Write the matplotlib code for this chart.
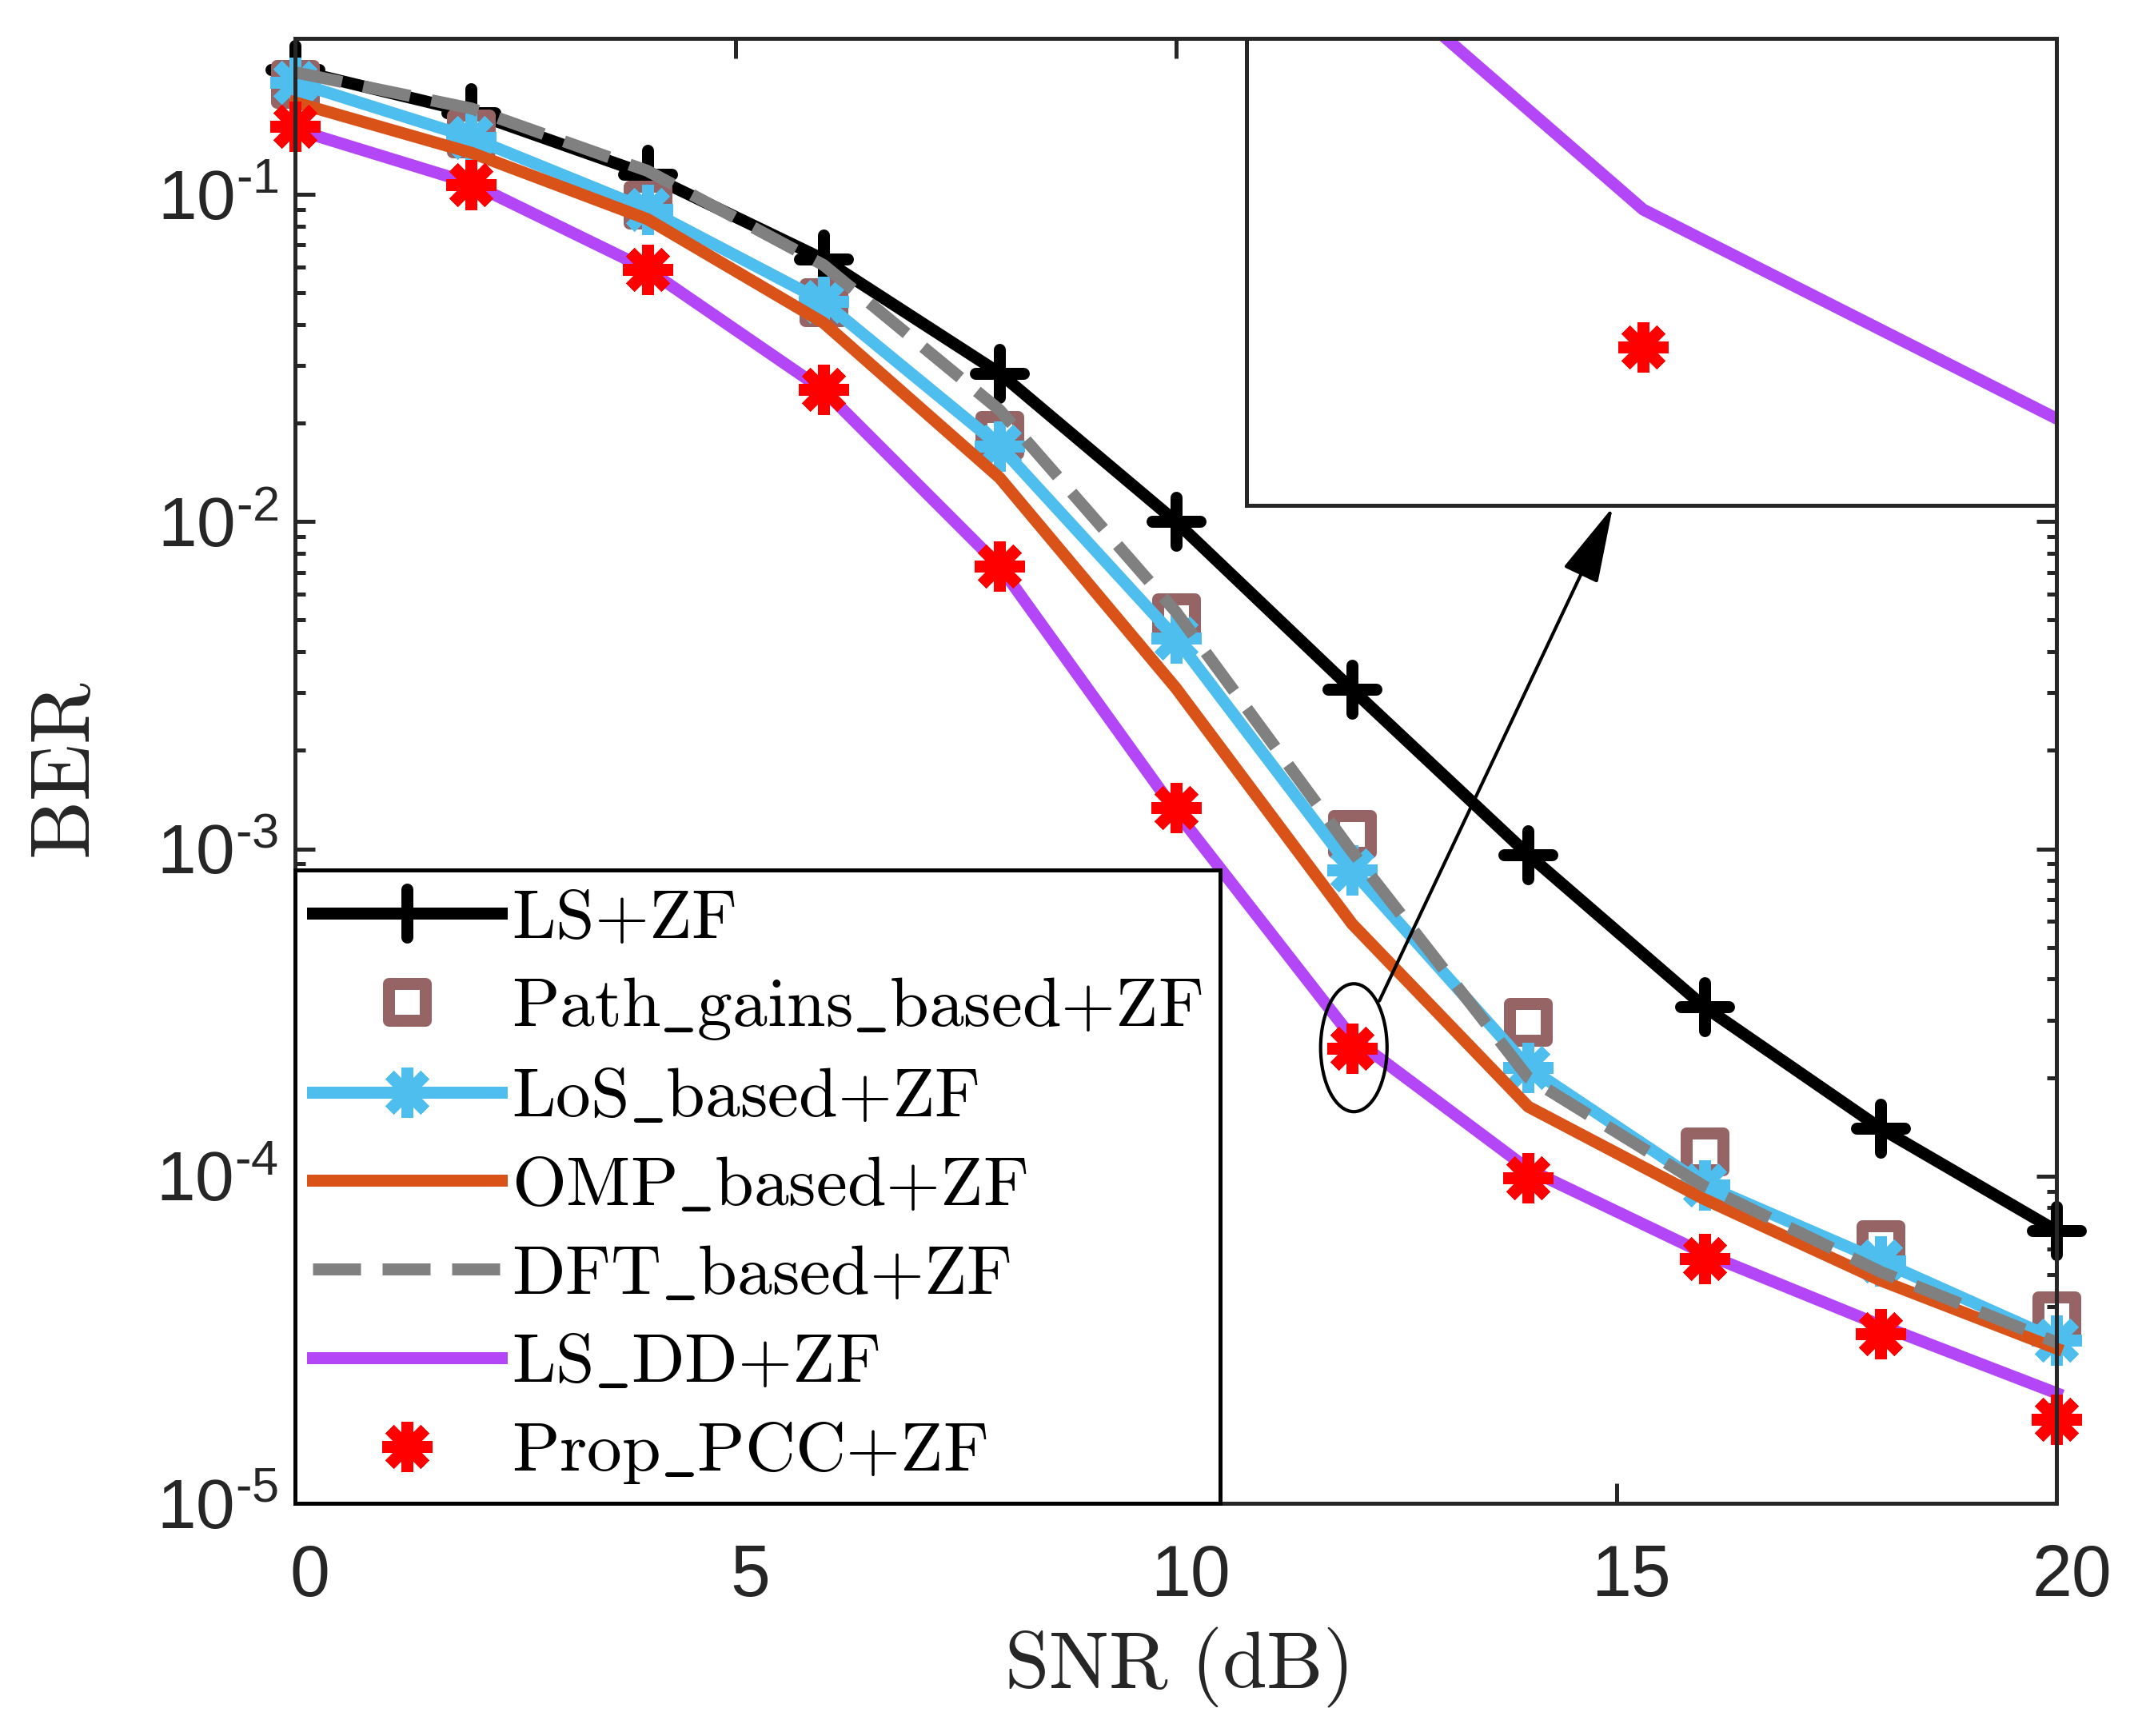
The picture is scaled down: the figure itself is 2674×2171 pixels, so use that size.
import matplotlib
matplotlib.use('Agg')
import matplotlib.pyplot as plt
import numpy as np
import matplotlib.ticker as ticker
import matplotlib.transforms as mtransforms
from matplotlib.patches import Ellipse
from matplotlib.markers import MarkerStyle
from matplotlib.font_manager import FontProperties

plt.rcParams['font.family'] = 'Liberation Sans'
plt.rcParams['mathtext.fontset'] = 'custom'
plt.rcParams['mathtext.rm'] = 'Liberation Sans'
plt.rcParams['mathtext.it'] = 'Liberation Sans:italic'
plt.rcParams['mathtext.bf'] = 'Liberation Sans:bold'

# data
snr = [0, 2, 4, 6, 8, 10, 12, 14, 16, 18, 20]
ber_ls = [0.240, 0.178, 0.115, 0.0633, 0.0284, 0.0100, 0.00307, 0.00096, 0.000329, 0.000140, 6.8e-5]
ber_path = [0.218, 0.153, 0.093, 0.0468, 0.0184, 0.0051, 0.00111, 0.000296, 0.000119, 6.2e-5, 3.75e-5]
ber_los = [0.220, 0.149, 0.090, 0.047, 0.0170, 0.0044, 0.00086, 0.000215, 9.4e-5, 5.5e-5, 3.16e-5]
ber_omp = [0.191, 0.134, 0.084, 0.0405, 0.0136, 0.0031, 0.00059, 0.000163, 8.5e-5, 4.8e-5, 2.97e-5]
ber_dft = [0.236, 0.183, 0.118, 0.0608, 0.0219, 0.0053, 0.00098, 0.000200, 9.3e-5, 5.1e-5, 3.1e-5]
ber_lsdd = [0.158, 0.108, 0.059, 0.0252, 0.0073, 0.00130, 0.000265, 0.000105, 5.8e-5, 3.5e-5, 2.17e-5]
ber_prop = [0.161, 0.107, 0.059, 0.0254, 0.0073, 0.00134, 0.000246, 9.9e-5, 5.6e-5, 3.3e-5, 1.81e-5]

labels = [r'$\mathrm{LS{+}ZF}$',
          r'$\mathrm{Path\_gains\_based{+}ZF}$',
          r'$\mathrm{LoS\_based{+}ZF}$',
          r'$\mathrm{OMP\_based{+}ZF}$',
          r'$\mathrm{DFT\_based{+}ZF}$',
          r'$\mathrm{LS\_DD{+}ZF}$',
          r'$\mathrm{Prop\_PCC{+}ZF}$']

lw = 3.6
plus = MarkerStyle('+', capstyle='round')
star = MarkerStyle((8, 2, 0), capstyle='round')
square = MarkerStyle('s', joinstyle='round')

fig, ax = plt.subplots(figsize=(2674 / 300, 2171 / 300), dpi=300)
fig.subplots_adjust(left=0.138, right=0.962, bottom=0.134, top=0.978)

ax.plot(snr, ber_ls, color='k', lw=lw, marker=plus, ms=14.5, mew=lw, label=labels[0], clip_on=False)
ax.plot(snr, ber_path, ls='none', marker=square, ms=11, mew=lw, mfc='none',
        mec='#966464', label=labels[1], clip_on=False)
ax.plot(snr, ber_los, color='#4DBEEE', lw=lw, marker=star, ms=15, mew=lw, label=labels[2], clip_on=False)
ax.plot(snr, ber_omp, color='#D95319', lw=lw, label=labels[3], clip_on=False)
ax.plot(snr, ber_dft, color='#808080', lw=lw, ls=(0, (4.0, 1.8)), label=labels[4], clip_on=False)
ax.plot(snr, ber_lsdd, color='#B347F7', lw=lw, label=labels[5], clip_on=False)
ax.plot(snr, ber_prop, ls='none', marker=star, ms=15, mew=lw, mec='#FF0000',
        mfc='#FF0000', label=labels[6], clip_on=False)

ax.set_yscale('log')
ax.set_xlim(0, 20)
ax.set_ylim(1e-5, 0.3)
ax.set_xticks([0, 5, 10, 15, 20])
ax.yaxis.set_major_locator(ticker.LogLocator(base=10, numticks=10))
ax.yaxis.set_minor_locator(ticker.LogLocator(base=10, subs=np.arange(2, 10), numticks=20))
ax.yaxis.set_minor_formatter(ticker.NullFormatter())
ax.yaxis.set_major_formatter(ticker.FuncFormatter(
    lambda v, p: r'$10^{\text{-}%d}$' % int(round(-np.log10(v)))))

axc = '#262626'
for s in ax.spines.values():
    s.set_color(axc)
    s.set_linewidth(1.2)
ax.tick_params(which='both', direction='in', top=True, right=True, width=1.2,
               color=axc, labelcolor=axc)
ax.tick_params(which='major', length=6)
ax.tick_params(which='minor', length=3)
ax.tick_params(axis='x', labelsize=21.5, pad=12)
ax.tick_params(axis='y', labelsize=21, pad=5)

# MATLAB draws the x tick labels a little to the right of the ticks
shift = mtransforms.ScaledTranslation(4.5 / 72, 0, fig.dpi_scale_trans)
for lab in ax.get_xticklabels():
    lab.set_transform(lab.get_transform() + shift)

ax.set_xlabel(r'$\mathrm{SNR\ (dB)}$', fontsize=24, math_fontfamily='cm', labelpad=4, color=axc)
ax.set_ylabel(r'$\mathrm{BER}$', fontsize=25, math_fontfamily='cm', labelpad=15, color=axc)

prop = FontProperties(size=21, math_fontfamily='cm')
leg = ax.legend(loc='lower left', bbox_to_anchor=(0, 0), borderaxespad=0, prop=prop,
                handlelength=2.7, handletextpad=0.15, labelspacing=0.34, borderpad=0.25,
                fancybox=False, framealpha=1, edgecolor='k')
leg.get_frame().set_linewidth(1.2)

# ellipse around the point and arrow to the zoomed view
ax.add_patch(Ellipse((0.601, 0.311), 0.0377, 0.0873, transform=ax.transAxes,
                     fill=False, ec='k', lw=1.0, zorder=6))
ax.annotate('', xy=(0.748, 0.680), xytext=(0.6155, 0.343),
            xycoords='axes fraction', textcoords='axes fraction',
            arrowprops=dict(arrowstyle='-|>,head_length=1.0,head_width=0.25',
                            mutation_scale=20, lw=1.0, color='k',
                            shrinkA=0, shrinkB=0))

# zoomed inset
axins = ax.inset_axes([0.540, 0.681, 0.460, 0.319])
axins.plot(snr, ber_lsdd, color='#B347F7', lw=lw)
axins.plot(snr, ber_prop, ls='none', marker=star, ms=15, mew=lw, mec='#FF0000', mfc='#FF0000')
axins.set_yscale('log')
axins.set_xlim(11.765, 12.245)
axins.set_ylim(2.257e-4, 2.908e-4)
axins.xaxis.set_major_locator(ticker.NullLocator())
axins.xaxis.set_minor_locator(ticker.NullLocator())
axins.yaxis.set_major_locator(ticker.NullLocator())
axins.yaxis.set_minor_locator(ticker.NullLocator())
for s in axins.spines.values():
    s.set_color(axc)
    s.set_linewidth(1.2)

fig.savefig('out.png', dpi=300)
